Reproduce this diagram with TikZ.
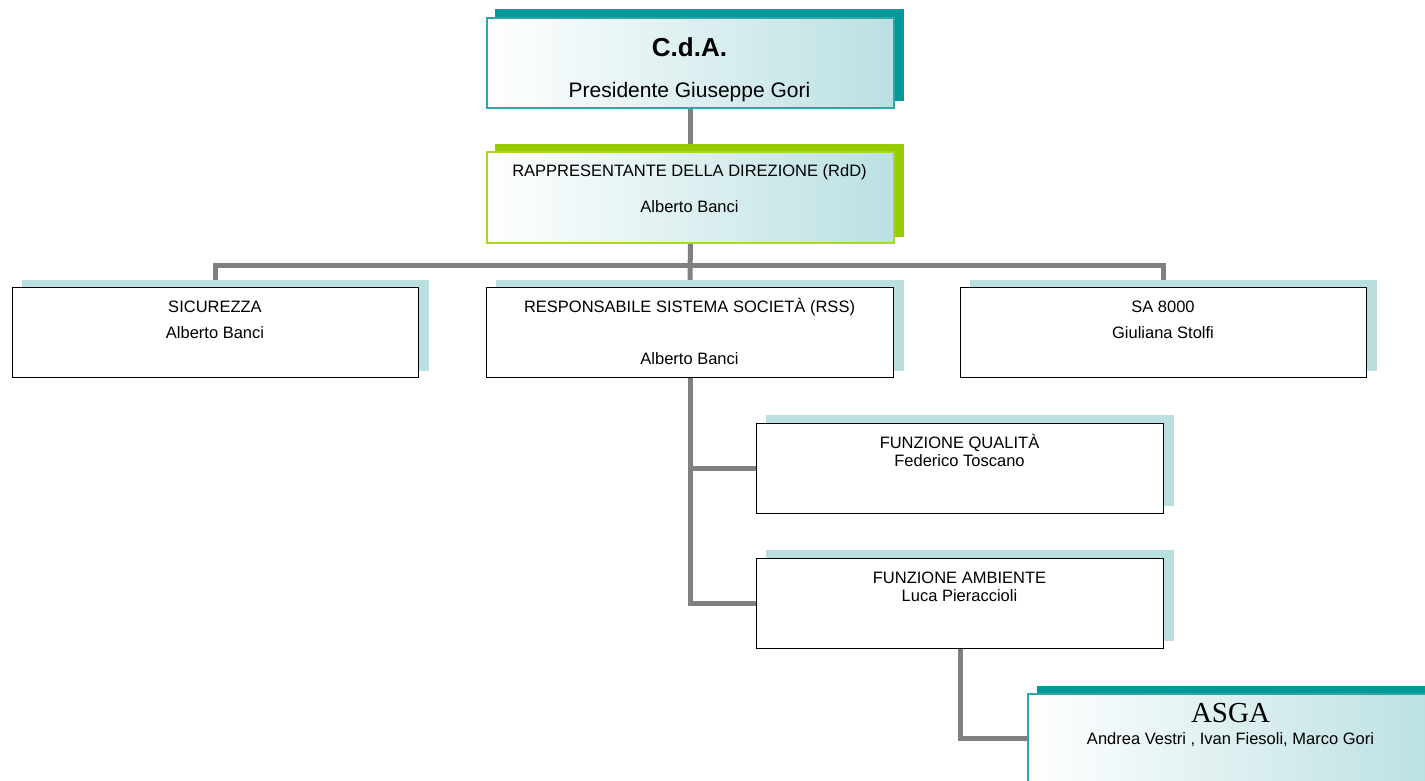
\documentclass[tikz,border=0pt]{standalone}
\usepackage{fontspec}
\setmainfont{Liberation Sans}
\newfontfamily\serifhead{Liberation Serif}
\usetikzlibrary{backgrounds}

\definecolor{tealshade}{HTML}{009999}
\definecolor{tealrim}{HTML}{2FA6A6}
\definecolor{limeshade}{HTML}{99CC00}
\definecolor{limerim}{HTML}{ABD62E}
\definecolor{paleshade}{HTML}{B9DFE1}
\definecolor{glaze}{HTML}{BBE0E2}
\definecolor{wire}{HTML}{808080}

\begin{document}
\begin{tikzpicture}[
  x=1pt, y=-1pt,
  line join=miter,
  unit/.style={draw=black, line width=1.3pt, fill=white, inner sep=0pt,
    minimum width=406pt, minimum height=90pt, anchor=north west},
  headunit/.style={unit, line width=1.6pt, left color=white, right color=glaze},
  link/.style={draw=wire, line width=5pt},
  txt/.style={inner sep=0pt, anchor=base, font=\fontsize{16.5}{19}\selectfont},
]
\useasboundingbox (0,0) rectangle (1425,781);

% ── the boxes ─────────────────────────────────────────────────────────────
\node[headunit, draw=tealrim, minimum width=407pt] (cda) at (486,17) {};
\node[headunit, draw=limerim, minimum width=407pt, minimum height=91pt] (rdd) at (486,151) {};

\node[unit] (sic) at (12,287) {};
\node[unit, minimum width=407pt] (rss) at (486,287) {};
\node[unit] (sa)  at (960,287) {};

\node[unit, minimum width=407pt] (fq) at (756,423) {};
\node[unit, minimum width=407pt] (fa) at (756,558) {};

\node[headunit, draw=tealrim, minimum width=407pt] (asga) at (1027,693) {};

% ── what is written in them ───────────────────────────────────────────────
\node[txt, font=\fontsize{26}{28}\selectfont\bfseries] (cda-a) at (689.5,57) {C.d.A.};
\node[txt, font=\fontsize{21}{24}\selectfont] (cda-b) at (689.5,98) {Presidente Giuseppe Gori};
\node[txt, font=\fontsize{29}{32}\selectfont\serifhead] (asga-a) at (1230.5,722) {ASGA};

\foreach \n/\x/\y/\t in {
    rdd-a/689.5/176/{RAPPRESENTANTE DELLA DIREZIONE (RdD)},
    rdd-b/689.5/212/{Alberto Banci},
    sic-a/215/312/{SICUREZZA},
    sic-b/215/338/{Alberto Banci},
    rss-a/689.5/312/{RESPONSABILE SISTEMA SOCIETÀ (RSS)},
    rss-b/689.5/364/{Alberto Banci},
    sa-a/1163/312/{SA 8000},
    sa-b/1163/338/{Giuliana Stolfi},
    fq-a/959.5/448/{FUNZIONE QUALITÀ},
    fq-b/959.5/466/{Federico Toscano},
    fa-a/959.5/583/{FUNZIONE AMBIENTE},
    fa-b/959.5/601/{Luca Pieraccioli},
    asga-b/1230.5/744/{Andrea Vestri , Ivan Fiesoli, Marco Gori}}
  \node[txt] (\n) at (\x,\y) {\t};

% ── connectors and shadows, behind the boxes ──────────────────────────────
\begin{scope}[on background layer]
  \coordinate (bus) at (689.5,265);
  \draw[link] (cda.south) -- (rdd.north);
  \draw[link] (rdd.south) -- (rss.north);
  \draw[link] (sic.north) |- (bus) -| (sa.north);
  \draw[link] (rss.south) |- (fq.west);
  \draw[link] (rss.south) |- (fa.west);
  \draw[link] (fa.south) |- (asga.west);

  % the shadows are drawn over the connectors
  \foreach \b/\c/\dx/\dy in {cda/tealshade/9/-8, rdd/limeshade/9/-7,
      asga/tealshade/10/-7, sic/paleshade/10/-7, rss/paleshade/10/-7,
      sa/paleshade/10/-7, fq/paleshade/10/-8, fa/paleshade/10/-8}
    \fill[\c] ([shift={(\dx,\dy)}]\b.south west) rectangle ([shift={(\dx,\dy)}]\b.north east);
\end{scope}

\end{tikzpicture}
\end{document}
